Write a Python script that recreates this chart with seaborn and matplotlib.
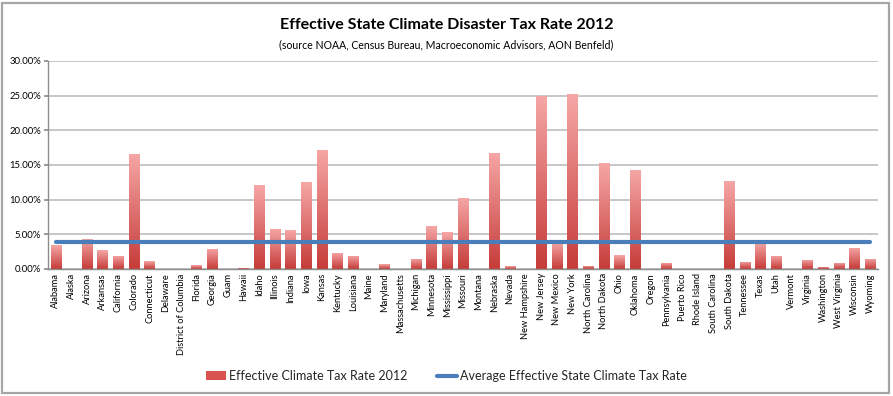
import numpy as np
import pandas as pd
import matplotlib
matplotlib.use("Agg")
import matplotlib.pyplot as plt
import seaborn as sns
from matplotlib.patches import Rectangle, Patch
from matplotlib.lines import Line2D
from matplotlib.colors import LinearSegmentedColormap
from matplotlib.ticker import FuncFormatter, MultipleLocator

states = ["Alabama", "Alaska", "Arizona", "Arkansas", "California", "Colorado",
          "Connecticut", "Delaware", "District of Columbia", "Florida", "Georgia",
          "Guam", "Hawaii", "Idaho", "Illinois", "Indiana", "Iowa", "Kansas",
          "Kentucky", "Louisiana", "Maine", "Maryland", "Massachusetts", "Michigan",
          "Minnesota", "Mississippi", "Missouri", "Montana", "Nebraska", "Nevada",
          "New Hampshire", "New Jersey", "New Mexico", "New York", "North Carolina",
          "North Dakota", "Ohio", "Oklahoma", "Oregon", "Pennsylvania", "Puerto Rico",
          "Rhode Island", "South Carolina", "South Dakota", "Tennessee", "Texas",
          "Utah", "Vermont", "Virginia", "Washington", "West Virginia", "Wisconsin",
          "Wyoming"]
rates = [0.0346, 0.0, 0.0433, 0.0274, 0.0188, 0.166,
         0.011, 0.0, 0.0, 0.0055, 0.029,
         0.0, 0.002, 0.121, 0.058, 0.056, 0.125, 0.172,
         0.0236, 0.0188, 0.0, 0.0067, 0.0, 0.015,
         0.062, 0.053, 0.103, 0.0, 0.168, 0.0043,
         0.0, 0.250, 0.038, 0.252, 0.005,
         0.1525, 0.020, 0.143, 0.0, 0.009, 0.0,
         0.0, 0.0, 0.1265, 0.0106, 0.038,
         0.019, 0.0, 0.013, 0.003, 0.0087, 0.031,
         0.015]
avg_rate = 0.0395

title = "Effective State Climate Disaster Tax Rate 2012"
subtitle = "(source NOAA, Census Bureau, Macroeconomic Advisors, AON Benfeld)"
bar_label = "Effective Climate Tax Rate 2012"
line_label = "Average Effective State Climate Tax Rate"

sns.set_theme(style="white")
plt.rcParams["font.family"] = ["Lato", "DejaVu Sans"]

df = pd.DataFrame({"state": states, "rate": rates})

fig = plt.figure(figsize=(8.93, 3.96), dpi=100)
ax = fig.add_axes([48 / 893, 1 - 269 / 396, (878 - 48) / 893, (269 - 61) / 396])

sns.barplot(data=df, x="state", y="rate", ax=ax, width=0.68, color="#C0504D",
            saturation=1, errorbar=None, zorder=2)

cmap = LinearSegmentedColormap.from_list("redgrad", ["#F5A7A6", "#C63C39"])
grad = np.linspace(0, 1, 128).reshape(-1, 1)
for p in ax.patches:
    h = p.get_height()
    if h <= 0:
        p.set_visible(False)
        continue
    x0 = p.get_x()
    w = p.get_width()
    im = ax.imshow(grad, cmap=cmap, aspect="auto", extent=[x0, x0 + w, 0, h],
                   origin="upper", zorder=2.1, interpolation="bilinear")
    im.set_clip_path(p)
    p.set_facecolor("none")
    p.set_edgecolor("none")

n = len(states)
sns.lineplot(x=np.arange(n), y=np.full(n, avg_rate), ax=ax, color="#4A7EBB",
             linewidth=3.0, zorder=3)

ax.set_xlim(-0.5, n - 0.5)
ax.set_ylim(0, 0.30)
ax.yaxis.set_major_locator(MultipleLocator(0.05))
ax.yaxis.set_major_formatter(FuncFormatter(lambda v, _: f"{v * 100:.2f}%"))
ax.grid(axis="y", color="#BDBDBD", linewidth=1.2, zorder=0)
ax.grid(axis="x", visible=False)
ax.set_axisbelow(True)
ax.set_xlabel("")
ax.set_ylabel("")
for s in ["top", "right"]:
    ax.spines[s].set_visible(False)
for s in ["left", "bottom"]:
    ax.spines[s].set_color("#8C8C8C")
    ax.spines[s].set_linewidth(1.0)
ax.tick_params(axis="y", labelsize=6.8, length=3, color="#8C8C8C", pad=2, left=True)
ax.tick_params(axis="x", labelsize=6.7, length=0, pad=3, rotation=90)
for lbl in ax.get_xticklabels() + ax.get_yticklabels():
    lbl.set_color("#000000")

fig.text(0.5, 1 - 25 / 396, title, ha="center", va="center",
         fontsize=11.5, fontweight="bold", color="#000000")
fig.text(0.5, 1 - 45 / 396, subtitle, ha="center", va="center",
         fontsize=7.6, color="#000000")

handles = [Patch(facecolor="#D9534F", edgecolor="none"),
           Line2D([0], [0], color="#4A7EBB", linewidth=3.0)]
fig.legend(handles, [bar_label, line_label], loc="center",
           bbox_to_anchor=(0.5, 1 - 376 / 396), ncol=2, frameon=False,
           fontsize=9.0, handlelength=1.6, handletextpad=0.2, columnspacing=2.4)

fig.patches.append(Rectangle((2 / 893, 3 / 396), 887 / 893, 390 / 396,
                             transform=fig.transFigure, fill=False,
                             edgecolor="#A6A6A6", linewidth=1.6))

fig.savefig("out.png", dpi=100)
